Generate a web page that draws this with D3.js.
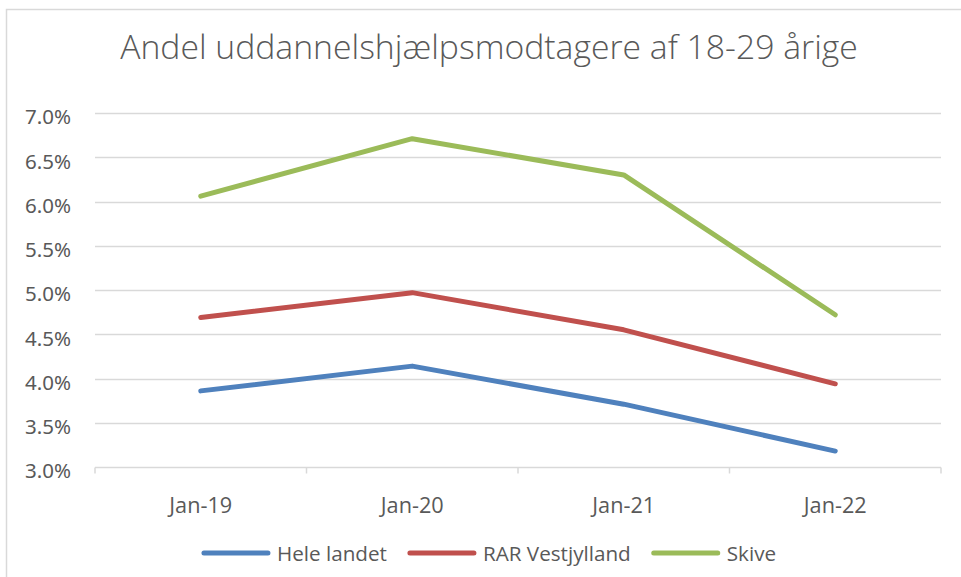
<!DOCTYPE html>
<html>
<head>
<meta charset="utf-8">
<script src="https://cdn.jsdelivr.net/npm/d3@7"></script>
<style>
  body { margin: 0; background: #fff; }
  text { font-family: "Open Sans", "Noto Sans", sans-serif; }
</style>
</head>
<body>
<div id="container"></div>
<script>
// data
const categories = ["Jan-19", "Jan-20", "Jan-21", "Jan-22"]
const heleLandet = [3.86, 4.14, 3.71, 3.18]
const rarVestjylland = [4.69, 4.97, 4.55, 3.94]
const skive = [6.06, 6.71, 6.30, 4.72]
const seriesNames = ["Hele landet", "RAR Vestjylland", "Skive"]
const seriesColors = ["#4f81bd", "#c0504d", "#9bbb59"]
const yTicks = [3.0, 3.5, 4.0, 4.5, 5.0, 5.5, 6.0, 6.5, 7.0]

const series = [heleLandet, rarVestjylland, skive].map((values, i) => ({
  name: seriesNames[i], color: seriesColors[i], values
}))

const width = 961
const height = 577
const svg = d3.create("svg")
  .attr("width", width)
  .attr("height", height)
container.append(svg.node())

// scale a text selection's font size so one sample text hits a target width
const fitFont = (sel, sampleNode, target, base) => {
  const w = sampleNode.getComputedTextLength()
  sel.style("font-size", (base * target / w) + "px")
}

// chart frame (clipped at right/bottom like the reference)
svg.append("path")
  .attr("d", "M6.5,600 V9.5 H1000")
  .attr("fill", "none")
  .attr("stroke", "#d9d9d9")
  .attr("stroke-width", 1.5)

const plot = {left: 95, right: 941, top: 113, bottom: 467}

const x = d3.scaleBand()
  .domain(categories)
  .range([plot.left, plot.right])

const y = d3.scaleLinear()
  .domain([3, 7])
  .range([plot.bottom, plot.top])

// title, sized to the reference width
const title = svg.append("text")
  .attr("x", 489)
  .attr("y", 59)
  .attr("text-anchor", "middle")
  .attr("fill", "#595959")
  .style("font-weight", 300)
  .style("font-size", "32px")
  .text("Andel uddannelshjælpsmodtagere af 18-29 årige")
fitFont(title, title.node(), 738, 32)

// gridlines
svg.append("g")
  .selectAll("line")
  .data(yTicks.slice(1))
  .join("line")
  .attr("x1", plot.left)
  .attr("x2", plot.right)
  .attr("y1", d => Math.round(y(d)) + 0.5)
  .attr("y2", d => Math.round(y(d)) + 0.5)
  .attr("stroke", "#d9d9d9")
  .attr("stroke-width", 1.5)

// y labels (sit a few px below their gridline, as in the reference)
const yLabels = svg.append("g")
  .selectAll("text")
  .data(yTicks)
  .join("text")
  .attr("x", 71)
  .attr("y", d => y(d) + 4)
  .attr("dy", "0.36em")
  .attr("text-anchor", "end")
  .attr("fill", "#595959")
  .style("font-family", "'Noto Sans', sans-serif")
  .style("font-size", "20px")
  .text(d => d.toFixed(1) + "%")
fitFont(yLabels, yLabels.node(), 46, 20)

// x axis
const xAxis = svg.append("g")
  .attr("transform", `translate(0,${Math.round(plot.bottom) + 0.5})`)
xAxis.append("line")
  .attr("x1", plot.left).attr("x2", plot.right)
  .attr("stroke", "#d9d9d9").attr("stroke-width", 1.5)
xAxis.selectAll(".tick")
  .data(categories.map(c => x(c)).concat([plot.right]))
  .join("line")
  .attr("class", "tick")
  .attr("x1", d => d).attr("x2", d => d)
  .attr("y1", 0).attr("y2", 6)
  .attr("stroke", "#d9d9d9").attr("stroke-width", 1.5)
const xLabels = xAxis.selectAll("text")
  .data(categories)
  .join("text")
  .attr("x", d => x(d) + x.bandwidth() / 2)
  .attr("y", 45)
  .attr("text-anchor", "middle")
  .attr("fill", "#595959")
  .style("font-size", "18px")
  .text(d => d)
fitFont(xLabels, xLabels.node(), 63, 18)

// lines
const line = d3.line()
  .x((d, i) => x(categories[i]) + x.bandwidth() / 2)
  .y(d => y(d))

svg.append("g")
  .selectAll("path")
  .data(series)
  .join("path")
  .attr("d", d => line(d.values))
  .attr("fill", "none")
  .attr("stroke", d => d.color)
  .attr("stroke-width", 5)
  .attr("stroke-linecap", "round")
  .attr("stroke-linejoin", "round")

// legend, laid out from measured text widths and centred
const swatch = 64, textGap = 9, itemGap = 23, legendY = 553
const legend = svg.append("g")
const items = legend.selectAll("g")
  .data(series)
  .join("g")
items.append("line")
  .attr("x1", 0).attr("x2", swatch)
  .attr("stroke", d => d.color)
  .attr("stroke-width", 5)
  .attr("stroke-linecap", "round")
const legendText = items.append("text")
  .attr("x", swatch + textGap)
  .attr("y", 8)
  .attr("fill", "#595959")
  .style("font-size", "18px")
  .text(d => d.name)
fitFont(legendText, legendText.node(), 110, 18)

let cursor = 0
items.each(function () {
  const g = d3.select(this)
  g.attr("transform", `translate(${cursor},0)`)
  cursor += swatch + textGap + g.select("text").node().getComputedTextLength() + itemGap
})
const legendWidth = cursor - itemGap
legend.attr("transform", `translate(${490 - legendWidth / 2},${legendY})`)
</script>
</body>
</html>
